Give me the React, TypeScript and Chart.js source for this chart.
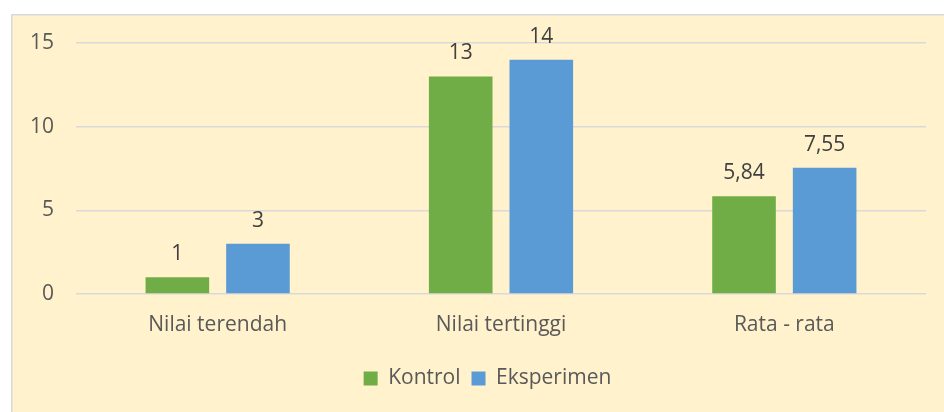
import React, { useEffect, useRef } from "react";
import { Chart, registerables } from "chart.js";

Chart.register(...registerables);

const categories = ["Nilai terendah", "Nilai tertinggi", "Rata - rata"];
const kontrol = [1, 13, 5.84];
const eksperimen = [3, 14, 7.55];
const yTicks = [0, 5, 10, 15];

const FONT = "'Open Sans', sans-serif";
const SIZE = 21;

const valueLabels = {
  id: "valueLabels",
  afterDatasetsDraw(chart: any) {
    const ctx = chart.ctx;
    ctx.save();
    ctx.font = `${SIZE}px ${FONT}`;
    ctx.fillStyle = "#404040";
    ctx.textAlign = "center";
    ctx.textBaseline = "alphabetic";
    chart.data.datasets.forEach((ds: any, i: number) => {
      const meta = chart.getDatasetMeta(i);
      meta.data.forEach((bar: any, j: number) => {
        const v = ds.data[j];
        const txt = String(v).replace(".", ",");
        ctx.fillText(txt, bar.x, bar.y - 17);
      });
    });
    ctx.restore();
  },
};

const legendShift = {
  id: "legendShift",
  afterLayout(chart: any) {
    const lg = chart.legend;
    if (lg) {
      lg.left += 19;
      lg.right += 19;
    }
  },
};

export default function App() {
  const ref = useRef<HTMLCanvasElement>(null);
  useEffect(() => {
    if (!ref.current) return;
    const chart = new Chart(ref.current, {
      type: "bar",
      data: {
        labels: categories,
        datasets: [
          {
            label: "Kontrol",
            data: kontrol,
            backgroundColor: "#70AD47",
            categoryPercentage: 0.569,
            barPercentage: 0.789,
          },
          {
            label: "Eksperimen",
            data: eksperimen,
            backgroundColor: "#5B9BD5",
            categoryPercentage: 0.569,
            barPercentage: 0.789,
          },
        ],
      },
      options: {
        animation: false,
        responsive: false,
        maintainAspectRatio: false,
        layout: { padding: { left: 0, right: 18, top: 0, bottom: 13 } },
        scales: {
          x: {
            grid: { display: false, drawTicks: false },
            border: { display: false },
            afterFit: (s: any) => {
              s.height = 63;
            },
            ticks: {
              color: "#595959",
              font: { family: FONT, size: SIZE },
              padding: 18,
            },
          },
          y: {
            min: 0,
            max: 15,
            afterBuildTicks: (s: any) => {
              s.ticks = yTicks.map((v) => ({ value: v }));
            },
            afterFit: (s: any) => {
              s.width = 65;
            },
            grid: {
              color: "#D9D9D9",
              lineWidth: 1.5,
              drawTicks: true,
              tickLength: 5.6,
              tickColor: "rgba(0,0,0,0)",
            },
            border: { display: false },
            ticks: {
              color: "#595959",
              font: { family: FONT, size: SIZE },
              padding: 16.4,
            },
          },
        },
        plugins: {
          legend: {
            position: "bottom",
            labels: {
              color: "#595959",
              font: { family: FONT, size: SIZE },
              boxWidth: 14,
              boxHeight: 14,
              padding: 11,
            },
          },
          tooltip: { enabled: false },
        },
      },
      plugins: [valueLabels, legendShift],
    });
    return () => chart.destroy();
  }, []);
  return (
    <div
      style={{
        position: "fixed",
        left: 0,
        top: 0,
        width: 944,
        height: 412,
        background: "#FFFFFF",
        overflow: "hidden",
      }}
    >
      <div
        style={{
          position: "absolute",
          left: 11,
          top: 14,
          width: 940,
          height: 405,
          background: "#FFF2CC",
          boxShadow: "inset 1.5px 1.5px 0 #D9D9D9",
        }}
      >
        <canvas ref={ref} width={933} height={398} style={{ display: "block" }} />
      </div>
    </div>
  );
}
